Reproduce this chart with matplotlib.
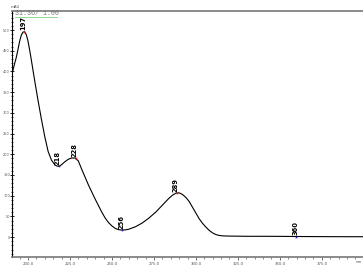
import matplotlib
matplotlib.use("Agg")
import matplotlib.pyplot as plt
from matplotlib.ticker import MultipleLocator, FixedLocator

# Spectrum (wavelength nm, absorbance mAU)
wavelength = [190, 191, 192, 193, 194, 195, 196, 197, 198, 199, 200, 201, 202, 203, 204,
              206, 208, 210, 212, 214, 216, 217, 218, 219, 220, 222, 224, 226, 228, 230,
              232, 234, 236, 238, 240, 242, 244, 246, 248, 250, 252, 254, 256, 258, 260,
              264, 268, 272, 276, 280, 284, 286, 288, 290, 292, 294, 296, 298, 300, 302,
              304, 306, 308, 310, 312, 314, 316, 320, 330, 340, 350, 360, 370, 380, 390, 400]
absorbance = [390, 402, 418, 433, 452, 472, 487, 495, 496, 489, 474, 452, 428, 403, 378,
              330, 285, 243, 207, 186, 175, 172, 171, 172, 175, 182, 188, 191, 191, 184,
              164, 145, 126, 109, 92, 76, 60, 46, 35, 27, 21, 18, 17, 17.5, 19,
              25, 34, 46, 60, 77, 94, 101, 106, 107, 103, 96, 86, 72, 58, 44,
              33, 24, 16, 10, 6, 4, 3, 2.5, 2, 2, 1.8, 1.5, 1.3, 1.1, 1, 1]

peak_labels = ["197", "218", "228", "256", "289", "360"]
peak_x = [197.8, 218.3, 228.4, 256.1, 288.6, 359.8]
peak_y = [496, 171, 191, 17, 107, 1.5]
peak_colors = ["#e02020", "#2020e0", "#e02020", "#2020e0", "#e02020", "#2020e0"]

x_ticks = [200, 225, 250, 275, 300, 325, 350, 375]
x_tick_labels = ["200.0", "225.0", "250.0", "275.0", "300.0", "325.0", "350.0", "375.0"]
y_ticks = [0, 50, 100, 150, 200, 250, 300, 350, 400, 450, 500]

fig = plt.figure(figsize=(3.63, 2.66), dpi=100)
ax = fig.add_axes([12/363, 9/266, 1 - 12/363, (257 - 11)/266])

ax.plot(wavelength, absorbance, color="black", lw=0.8)
for lab, px, py, c in zip(peak_labels, peak_x, peak_y, peak_colors):
    ax.plot([px], [py], marker="s", ms=1.2, color=c, mew=0)
    ax.text(px - 0.6, py + 3, lab, rotation=90, ha="center", va="bottom",
            fontsize=4.9, fontweight="bold", color="black", family="DejaVu Sans")

ax.set_xlim(190.5, 399.5)
ax.set_ylim(-48, 546)

ax.xaxis.set_major_locator(FixedLocator(x_ticks))
ax.set_xticklabels(x_tick_labels)
ax.xaxis.set_minor_locator(MultipleLocator(5))
ax.yaxis.set_major_locator(FixedLocator(y_ticks))
ax.yaxis.set_minor_locator(MultipleLocator(10))

ax.tick_params(axis="x", which="major", labelsize=2.8, colors="#555555",
               length=2.5, width=0.6, pad=1.0)
ax.tick_params(axis="x", which="minor", length=1.5, width=0.5, colors="#555555")
ax.tick_params(axis="y", which="major", labelsize=2.5, colors="black",
               labelcolor="#555555", length=2.2, width=0.6, pad=0.4, direction="inout")
ax.tick_params(axis="y", which="minor", length=1.6, width=0.5, colors="black",
               direction="inout")

ax.spines["right"].set_visible(False)
ax.spines["left"].set_color("black")
ax.spines["left"].set_linewidth(0.8)
ax.spines["bottom"].set_color("#777777")
ax.spines["bottom"].set_linewidth(1.2)
ax.spines["top"].set_color("#777777")
ax.spines["top"].set_linewidth(1.2)

fig.text(359/363, 4/266, "nm", fontsize=2.8, color="#555555", ha="center", va="center")
fig.text(15/363, 259/266, "mAU", fontsize=2.8, color="#555555", ha="center", va="center")
fig.text(15/363, 252.3/266, "31.36/ 1.00", fontsize=4.8, color="#777777",
         family="Liberation Mono", ha="left", va="center")
fig.add_artist(plt.Line2D([15/363, 57/363], [249.2/266, 249.2/266], color="#66cc66", lw=0.5))

fig.savefig("out.png", dpi=100)
